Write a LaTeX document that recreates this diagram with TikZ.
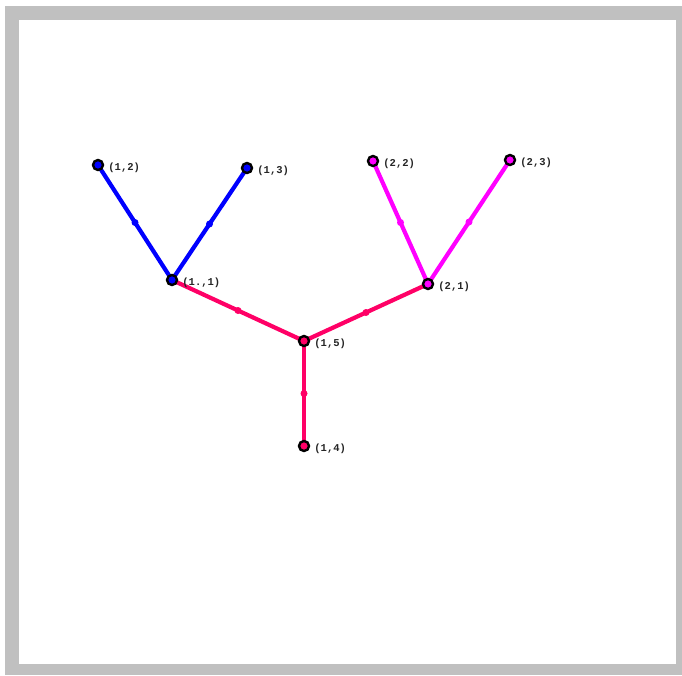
\documentclass[tikz,border=0pt]{standalone}
\usepackage{fontspec}
\setmonofont{Liberation Mono}
\definecolor{frameg}{RGB}{192,192,192}
\definecolor{eblue}{RGB}{0,0,255}
\definecolor{emag}{RGB}{255,0,255}
\definecolor{ered}{RGB}{255,0,102}
\begin{document}
\begin{tikzpicture}[x=1pt,y=-1pt,
  vtx/.style={circle,draw=black,line width=2.4pt,inner sep=0pt,minimum size=10pt},
  lbl/.style={anchor=west,font=\ttfamily\fontsize{10.5}{12}\selectfont,inner sep=0pt,yshift=-2.5pt,xshift=4pt,text=black!85},
  edg/.style={line width=4.2pt},
  mid/.style={circle,fill,inner sep=0pt,minimum size=7pt}]
\useasboundingbox (0,0) rectangle (682,675);
\fill[white] (0,0) rectangle (682,675);
\fill[frameg] (5,6) rectangle (682,675);
\fill[white] (19,20) rectangle (676,664);
% coordinates
\coordinate (c12) at (98,165);
\coordinate (c13) at (247,168);
\coordinate (c11) at (172,280);
\coordinate (c22) at (373,161);
\coordinate (c23) at (510,160);
\coordinate (c21) at (428,284);
\coordinate (c15) at (304,341);
\coordinate (c14) at (304,446);
% edges
\draw[edg,eblue] (c12) -- node[mid]{} (c11);
\draw[edg,eblue] (c13) -- node[mid]{} (c11);
\draw[edg,emag] (c22) -- node[mid]{} (c21);
\draw[edg,emag] (c23) -- node[mid]{} (c21);
\draw[edg,ered] (c11) -- node[mid]{} (c15);
\draw[edg,ered] (c21) -- node[mid]{} (c15);
\draw[edg,ered] (c15) -- node[mid]{} (c14);
% vertices
\node[vtx,fill=eblue] (n12) at (c12) {};
\node[vtx,fill=eblue] (n13) at (c13) {};
\node[vtx,fill=eblue] (n11) at (c11) {};
\node[vtx,fill=emag] (n22) at (c22) {};
\node[vtx,fill=emag] (n23) at (c23) {};
\node[vtx,fill=emag] (n21) at (c21) {};
\node[vtx,fill=ered] (n15) at (c15) {};
\node[vtx,fill=ered] (n14) at (c14) {};
% labels
\node[lbl] (l12) at (n12.east) {\bfseries (1,2)};
\node[lbl] (l13) at (n13.east) {\bfseries (1,3)};
\node[lbl] (l11) at (n11.east) {\bfseries (1.,1)};
\node[lbl] (l22) at (n22.east) {\bfseries (2,2)};
\node[lbl] (l23) at (n23.east) {\bfseries (2,3)};
\node[lbl] (l21) at (n21.east) {\bfseries (2,1)};
\node[lbl] (l15) at (n15.east) {\bfseries (1,5)};
\node[lbl] (l14) at (n14.east) {\bfseries (1,4)};
\end{tikzpicture}
\end{document}
